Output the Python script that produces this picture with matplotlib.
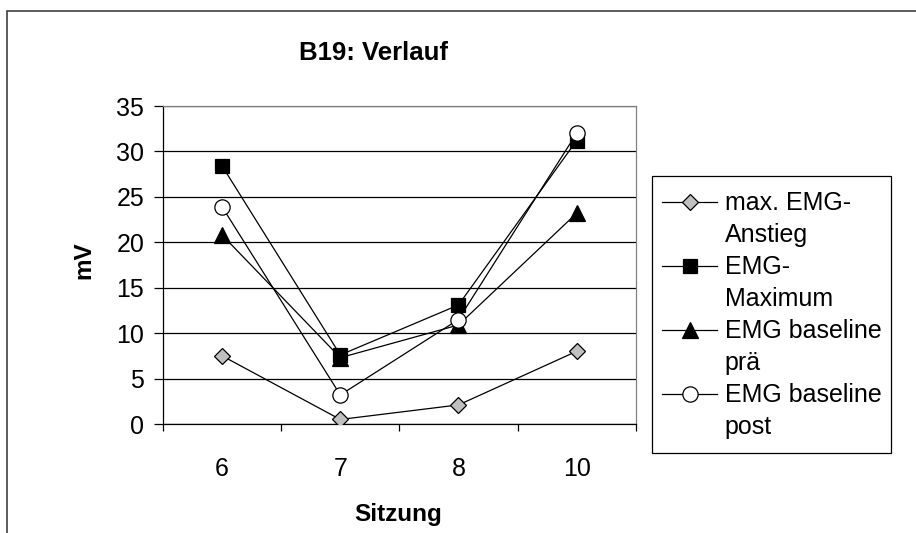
import matplotlib.pyplot as plt
from matplotlib.lines import Line2D
from matplotlib.patches import Rectangle

plt.rcParams['font.family'] = ['Liberation Sans', 'DejaVu Sans']

# Sitzungen (categorical x axis)
sessions = ["6", "7", "8", "10"]

# values (mV)
max_anstieg = [7.5, 0.5, 2.1, 8.0]
emg_maximum = [28.4, 7.6, 13.1, 31.2]
baseline_prae = [20.8, 7.3, 10.9, 23.2]
baseline_post = [23.9, 3.2, 11.5, 32.0]

series_labels = [("max. EMG-", "Anstieg"), ("EMG-", "Maximum"),
                 ("EMG baseline", "prä"), ("EMG baseline", "post")]
y_ticks = [0, 5, 10, 15, 20, 25, 30, 35]

fig = plt.figure(figsize=(9.16, 5.33), dpi=100)
ax = fig.add_axes([0.178, 0.2045, 0.516, 0.5965])

x = list(range(len(sessions)))
styles = [
    dict(marker='D', markersize=8, markerfacecolor='#c0c0c0'),
    dict(marker='s', markersize=9.5, markerfacecolor='black'),
    dict(marker='^', markersize=11, markerfacecolor='black'),
    dict(marker='o', markersize=11, markerfacecolor='white'),
]
data = [max_anstieg, emg_maximum, baseline_prae, baseline_post]
lines = []
for vals, st in zip(data, styles):
    l, = ax.plot(x, vals, color='black', linewidth=0.9, markeredgecolor='black',
                 markeredgewidth=0.9, zorder=3, **st)
    lines.append(l)

ax.set_xlim(-0.5, len(sessions) - 0.5)
ax.set_ylim(0, 35)
ax.set_yticks(y_ticks)
ax.yaxis.grid(True, color='black', linewidth=0.9)
ax.set_axisbelow(True)
ax.set_xticks(x)
ax.set_xticklabels(sessions)
ax.set_xticks([i - 0.5 for i in range(len(sessions) + 1)], minor=True)
ax.tick_params(axis='x', which='major', length=0, pad=24, labelsize=18)
ax.tick_params(axis='x', which='minor', length=5, direction='out', width=0.9)
ax.tick_params(axis='y', length=6.5, width=0.9, labelsize=18, pad=7)
for s in ['left', 'bottom']:
    ax.spines[s].set_color('black')
    ax.spines[s].set_linewidth(0.9)
for s in ['right', 'top']:
    ax.spines[s].set_color('#808080')
    ax.spines[s].set_linewidth(0.9)

fig.text(0.408, 0.8874, "B19: Verlauf", fontsize=18.5, fontweight='bold',
         ha='center', va='baseline')
fig.text(0.092, 0.512, "mV", fontsize=17.5, fontweight='bold', rotation=90,
         ha='center', va='center')
fig.text(0.4345, 0.0226, "Sitzung", fontsize=17.5, fontweight='bold',
         ha='center', va='baseline')

# legend: each label wraps to two lines, marker sits on first line
handles, labels = [], []
blank = Line2D([], [], linestyle='none')
for l, (a, b) in zip(lines, series_labels):
    handles += [l, blank]
    labels += [a, b]
leg = fig.legend(handles, labels, loc='upper left',
                 bbox_to_anchor=(0.715, 0.655), borderaxespad=0,
                 fontsize=18, handlelength=2.2, handletextpad=0.3,
                 labelspacing=0.32, borderpad=0.3, frameon=False)
# legend box drawn separately (Excel-style extra space below)
fig.patches.append(Rectangle((0.7118, 0.1501), 0.2609, 0.5197,
                             transform=fig.transFigure, fill=False,
                             edgecolor='black', linewidth=0.9))

# outer chart frame (cut off at right/bottom)
fig.patches.append(Rectangle((0.0077, -0.05), 1.1, 1.05 - 0.0206,
                             transform=fig.transFigure, fill=False,
                             edgecolor='#404040', linewidth=1.2))

fig.savefig("out.png", dpi=100)
